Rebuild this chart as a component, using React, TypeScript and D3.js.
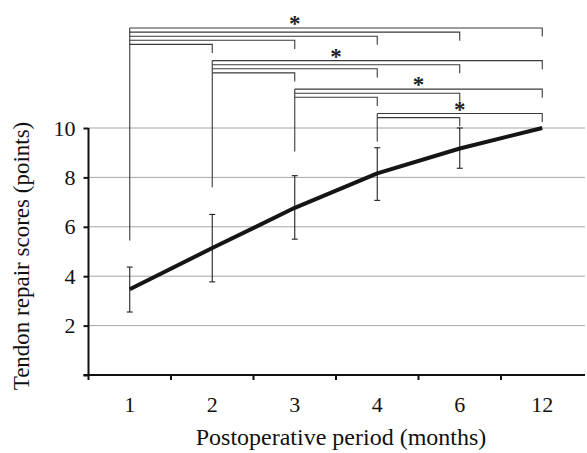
import { useEffect, useRef } from 'react';
import * as d3 from 'd3';

const months = ['1', '2', '3', '4', '6', '12'];
const meanScore = [3.47, 5.14, 6.77, 8.16, 9.17, 10.0];
const lowerBar = [2.55, 3.77, 5.5, 7.07, 8.37, null];
const upperBar = [4.37, 6.5, 8.07, 9.2, 10.0, null];
const yTicks = [0, 2, 4, 6, 8, 10];
const gridTicks = [2, 4, 6, 8, 10];

// significance brackets: one group per reference month
const bracketFrom = ['1', '2', '3', '4'];
const bracketTo = [
  ['12', '6', '4', '3', '2'],
  ['12', '6', '4', '3'],
  ['12', '6', '4'],
  ['12', '6'],
];
// where the left leg of each group stops (score units)
const bracketLegEnd = [5.45, 7.6, 9.05, 9.45];
// star position, in category steps from month 1
const starPos = [2, 2.5, 3.5, 4];

function App() {
  const ref = useRef<SVGSVGElement>(null);

  useEffect(() => {
    draw();
    // eslint-disable-next-line
  }, []);

  function draw() {
    const config = { width: 587, height: 453, left: 88.5, right: 583.5, top: 128, bottom: 375 };
    const svg = d3.select(ref.current);
    svg.selectAll('*').remove();

    const xScale = d3.scaleBand().domain(months).range([config.left, config.right]);
    const yScale = d3.scaleLinear().domain([0, 10]).range([config.bottom, config.top]);
    const cx = (m: string) => (xScale(m) as number) + xScale.bandwidth() / 2;
    const font = '"Liberation Serif", "Times New Roman", serif';

    // grid
    svg.append('g')
      .selectAll('line')
      .data(gridTicks)
      .join('line')
      .attr('x1', config.left)
      .attr('x2', 585)
      .attr('y1', d => yScale(d))
      .attr('y2', d => yScale(d))
      .attr('stroke', '#a6a6a6')
      .attr('stroke-width', 1);

    // y axis
    const yAxis = d3.axisLeft(yScale).tickValues(yTicks).tickSize(5).tickPadding(8)
      .tickFormat(d => (d === 0 ? '' : String(d)));
    const yG = svg.append('g').attr('transform', `translate(${config.left},0)`).call(yAxis);
    yG.select('.domain').attr('d', `M0,${config.top}V${config.bottom + 5}`).attr('stroke', '#111').attr('stroke-width', 2);
    yG.selectAll('.tick line').attr('stroke', '#111').attr('stroke-width', 2);
    yG.selectAll('.tick text').attr('font-family', font).attr('font-size', 22).attr('fill', '#111');

    // x axis
    const xG = svg.append('g').attr('transform', `translate(0,${config.bottom})`);
    xG.append('line')
      .attr('x1', config.left - 5).attr('x2', 585)
      .attr('stroke', '#111').attr('stroke-width', 2);
    xG.selectAll('line.tk')
      .data(months.slice(1))
      .join('line')
      .attr('class', 'tk')
      .attr('x1', d => xScale(d) as number)
      .attr('x2', d => xScale(d) as number)
      .attr('y1', 0).attr('y2', 5)
      .attr('stroke', '#111').attr('stroke-width', 2);
    xG.selectAll('text')
      .data(months)
      .join('text')
      .attr('x', d => cx(d))
      .attr('y', 36.5)
      .attr('text-anchor', 'middle')
      .attr('font-family', font).attr('font-size', 22).attr('fill', '#111')
      .text(d => d);

    // axis titles
    svg.append('text')
      .attr('x', 341).attr('y', 445)
      .attr('text-anchor', 'middle')
      .attr('font-family', font).attr('font-size', 24).attr('fill', '#111')
      .text('Postoperative period (months)');
    svg.append('text')
      .attr('transform', 'translate(29,256) rotate(-90)')
      .attr('text-anchor', 'middle')
      .attr('font-family', font).attr('font-size', 23).attr('fill', '#111')
      .text('Tendon repair scores (points)');

    // error bars
    const errData = months.map((m, i) => ({ m, lo: lowerBar[i], hi: upperBar[i] })).filter(d => d.lo != null);
    const errG = svg.append('g').attr('stroke', '#222').attr('stroke-width', 1.1);
    errData.forEach(d => {
      const x = cx(d.m);
      errG.append('line').attr('x1', x).attr('x2', x).attr('y1', yScale(d.lo as number)).attr('y2', yScale(d.hi as number));
      errG.append('line').attr('x1', x - 3).attr('x2', x + 3).attr('y1', yScale(d.lo as number)).attr('y2', yScale(d.lo as number));
      errG.append('line').attr('x1', x - 3).attr('x2', x + 3).attr('y1', yScale(d.hi as number)).attr('y2', yScale(d.hi as number));
    });

    // mean line
    const line = d3.line<number>()
      .x((_, i) => cx(months[i]))
      .y(d => yScale(d));
    svg.append('path')
      .datum(meanScore)
      .attr('d', line)
      .attr('fill', 'none')
      .attr('stroke', '#151515')
      .attr('stroke-width', 4)
      .attr('stroke-linejoin', 'round');

    // significance brackets
    const top0 = 28, step = 4.1, drop = 8.6, groupGap = 16.2;
    const bG = svg.append('g').attr('stroke', '#3a3a3a').attr('stroke-width', 1.1).attr('fill', 'none');
    let top = top0;
    bracketFrom.forEach((from, g) => {
      const x0 = cx(from);
      const targets = bracketTo[g];
      bG.append('line').attr('x1', x0).attr('x2', x0).attr('y1', top).attr('y2', yScale(bracketLegEnd[g]));
      targets.forEach((to, k) => {
        const y = top + k * step;
        const x1 = cx(to);
        bG.append('path').attr('d', `M${x0},${y}H${x1}V${y + drop}`);
      });
      const sx = cx(months[0]) + starPos[g] * xScale.step();
      svg.append('text')
        .attr('x', sx).attr('y', top + 3)
        .attr('text-anchor', 'middle')
        .attr('font-family', font).attr('font-size', 23).attr('font-weight', 'bold').attr('fill', '#222')
        .text('*');
      top = top + (targets.length - 1) * step + groupGap;
    });
  }

  return (
    <div>
      <svg ref={ref} width={587} height={453} style={{ position: 'absolute', left: 0, top: 0 }}></svg>
    </div>
  );
}

export default App;
